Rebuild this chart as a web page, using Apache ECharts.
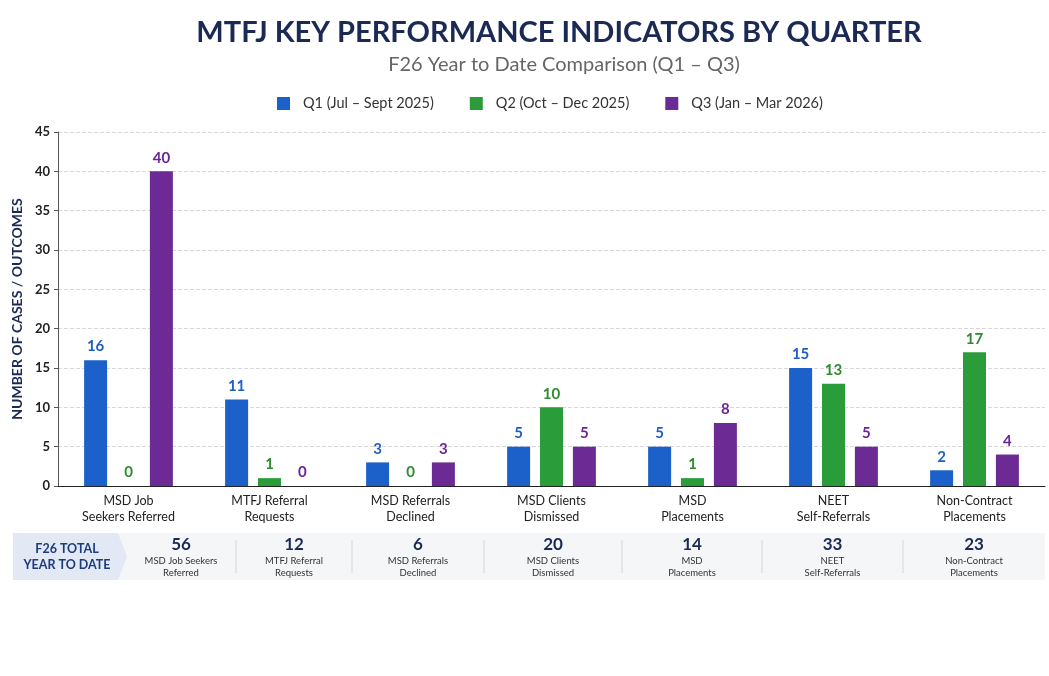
<!DOCTYPE html>
<html>
<head>
<meta charset="utf-8">
<title>MTFJ Key Performance Indicators by Quarter</title>
<script src="https://cdn.jsdelivr.net/npm/echarts@6/dist/echarts.min.js"></script>
<style>
  html, body { margin: 0; padding: 0; background: #ffffff; }
  #chart { width: 1049px; height: 676px; }
</style>
</head>
<body>
<div id="chart"></div>
<script>
// KPI categories (axis labels) and quarterly counts
const categories = [
  'MSD Job\nSeekers Referred',
  'MTFJ Referral\nRequests',
  'MSD Referrals\nDeclined',
  'MSD Clients\nDismissed',
  'MSD\nPlacements',
  'NEET\nSelf-Referrals',
  'Non-Contract\nPlacements'
];
const summaryLabels = [
  'MSD Job Seekers\nReferred',
  'MTFJ Referral\nRequests',
  'MSD Referrals\nDeclined',
  'MSD Clients\nDismissed',
  'MSD\nPlacements',
  'NEET\nSelf-Referrals',
  'Non-Contract\nPlacements'
];
const seriesNames = ['Q1 (Jul – Sept 2025)', 'Q2 (Oct – Dec 2025)', 'Q3 (Jan – Mar 2026)'];
const q1 = [16, 11, 3, 5, 5, 15, 2];
const q2 = [0, 1, 0, 10, 1, 13, 17];
const q3 = [40, 0, 3, 5, 8, 5, 4];
const yTicks = { min: 0, max: 45, interval: 5 };

// Year-to-date totals for the summary strip
const totals = categories.map((_, i) => q1[i] + q2[i] + q3[i]);

const FONT = 'Lato, "Open Sans", sans-serif';
const NAVY = '#1b2a55';
const barColors = ['#1c61c9', '#2a9c3a', '#6c2b94'];
const labelColors = ['#1f5fc4', '#2e8b2e', '#6a2596'];

const chart = echarts.init(document.getElementById('chart'));

// Summary strip under the plot
const stripTop = 533, stripH = 47, stripLeft = 13, stripRight = 1045;
const dividers = [126, 236, 352, 484, 622, 762, 903, 1045];
const graphics = [
  { type: 'rect', shape: { x: stripLeft, y: stripTop, width: stripRight - stripLeft, height: stripH },
    style: { fill: '#f5f6f8' }, silent: true },
  { type: 'polygon', shape: { points: [[stripLeft, stripTop], [118, stripTop], [127, stripTop + stripH / 2], [118, stripTop + stripH], [stripLeft, stripTop + stripH]] },
    style: { fill: '#e2e8f4' }, silent: true },
  { type: 'text', x: 67, y: stripTop + stripH / 2,
    style: { text: 'F26 TOTAL\nYEAR TO DATE', fill: '#1d3b7c', font: 'bold 12.5px ' + FONT,
      align: 'center', verticalAlign: 'middle', lineHeight: 16 }, silent: true }
];
for (let i = 0; i < totals.length; i++) {
  const cx = (dividers[i] + dividers[i + 1]) / 2;
  graphics.push({ type: 'text', x: cx, y: stripTop + 12,
    style: { text: String(totals[i]), fill: NAVY, font: 'bold 17px ' + FONT, align: 'center', verticalAlign: 'middle' }, silent: true });
  graphics.push({ type: 'text', x: cx, y: stripTop + 34,
    style: { text: summaryLabels[i], fill: '#333333', font: '9.5px ' + FONT, align: 'center', verticalAlign: 'middle', lineHeight: 12 }, silent: true });
  if (i > 0) {
    graphics.push({ type: 'line', shape: { x1: dividers[i], y1: stripTop + 7, x2: dividers[i], y2: stripTop + stripH - 7 },
      style: { stroke: '#d4d6da', lineWidth: 1 }, silent: true });
  }
}

const makeSeries = (name, data, idx) => ({
  name: name,
  type: 'bar',
  data: data,
  barWidth: 23,
  barGap: '43%',
  itemStyle: { color: barColors[idx] },
  label: {
    show: true, position: 'top', distance: 6,
    color: labelColors[idx], fontFamily: FONT, fontWeight: 'bold', fontSize: 15
  }
});

chart.setOption({
  backgroundColor: '#ffffff',
  animation: false,
  textStyle: { fontFamily: FONT },
  title: [
    { text: 'MTFJ KEY PERFORMANCE INDICATORS BY QUARTER', left: 554, textAlign: 'center', top: 13,
      textStyle: { color: NAVY, fontSize: 29, fontWeight: 'bold', fontFamily: FONT } },
    { text: 'F26 Year to Date Comparison (Q1 – Q3)', left: 559, textAlign: 'center', top: 50,
      textStyle: { color: '#666666', fontSize: 20, fontWeight: 'normal', fontFamily: FONT } }
  ],
  legend: {
    top: 91, left: 272, itemWidth: 13, itemHeight: 13, itemGap: 36, icon: 'rect',
    textStyle: { color: '#333333', fontSize: 14.5, fontFamily: FONT, padding: [0, 0, 0, 8] },
    data: seriesNames
  },
  grid: { left: 58, right: 4, top: 132, bottom: 190, containLabel: false },
  xAxis: {
    type: 'category',
    data: categories,
    axisLine: { lineStyle: { color: '#222222', width: 1.2 } },
    axisTick: { show: false },
    axisLabel: { color: '#222222', fontSize: 12.5, lineHeight: 16, margin: 7, fontFamily: FONT, interval: 0 }
  },
  yAxis: {
    type: 'value',
    min: yTicks.min, max: yTicks.max, interval: yTicks.interval,
    name: 'NUMBER OF CASES / OUTCOMES',
    nameLocation: 'middle', nameRotate: 90, nameGap: 32,
    nameTextStyle: { color: NAVY, fontSize: 14, fontWeight: 'bold', fontFamily: FONT },
    axisLine: { show: true, lineStyle: { color: '#555555', width: 1 } },
    axisTick: { show: true, length: 4, lineStyle: { color: '#555555' } },
    axisLabel: { color: '#222222', fontSize: 13, fontWeight: 'bold', margin: 8, fontFamily: FONT },
    splitLine: { lineStyle: { color: '#d8d8d8', type: 'dashed', width: 1 } }
  },
  graphic: graphics,
  series: [
    makeSeries(seriesNames[0], q1, 0),
    makeSeries(seriesNames[1], q2, 1),
    makeSeries(seriesNames[2], q3, 2)
  ]
});
</script>
</body>
</html>
